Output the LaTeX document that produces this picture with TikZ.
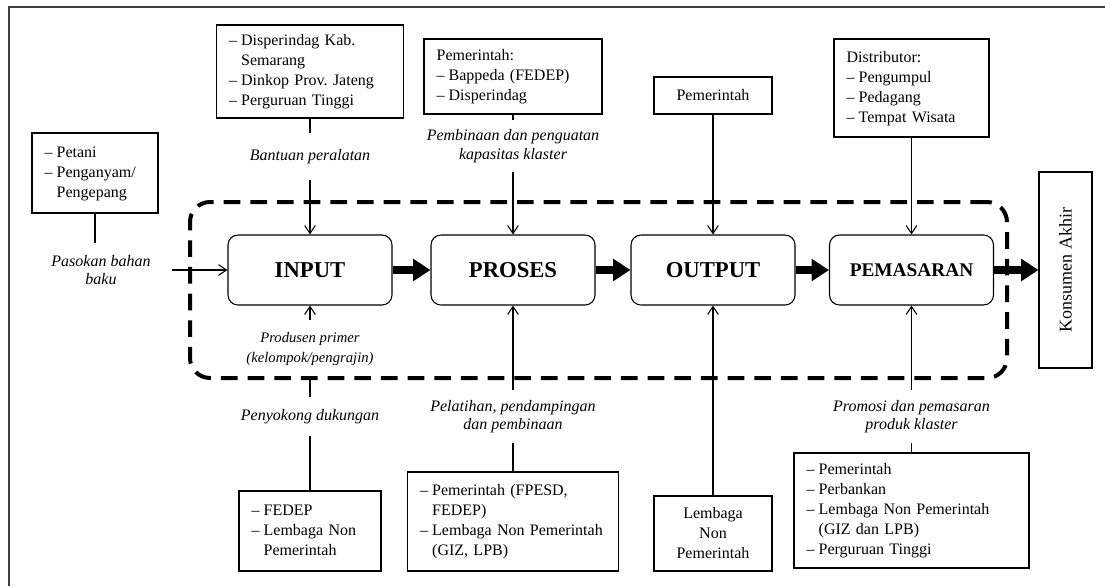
\documentclass[tikz,border=0pt]{standalone}
\usepackage{fontspec}
\setmainfont{Liberation Serif}
\usetikzlibrary{arrows.meta}

\newcommand{\fs}[2]{\fontsize{#1}{#2}\selectfont}

\begin{document}
\begin{tikzpicture}[x=0.75pt, y=-0.75pt,
  stage/.style={draw, line width=0.8pt, rounded corners=7.5pt, minimum width=123pt, minimum height=52.5pt, font=\bfseries\fs{17}{20}},
  actor/.style={draw, line width=0.8pt, align=left, inner xsep=9.5pt, inner ysep=0pt, font=\fs{12}{15}},
  note/.style={inner sep=0pt, align=center, font=\itshape\fs{12}{14}},
  link/.style={line width=0.8pt},
  feed/.style={line width=0.8pt, -{Straight Barb[length=6pt,width=8pt]}},
  flow/.style={line width=6.5pt, -{Triangle[length=13pt,width=16pt]}},
  klasterbox/.style={draw, dashed, line width=3pt, dash pattern=on 12.5pt off 7.5pt, rounded corners=15pt, minimum width=612.75pt, minimum height=132pt}]
\useasboundingbox (0,0) rectangle (1105,586);
\draw[line width=1.3pt, black!75] (1105,7) -- (9,7) -- (9,586);

\draw (598.5,290) node[klasterbox] (klaster) {};

% rantai utama
\draw (310,270) node[stage] (input) {INPUT};
\draw (513,270) node[stage] (proses) {PROSES};
\draw (713,270) node[stage] (output) {OUTPUT};
\draw (911.5,270) node[stage, font=\bfseries\fs{14.5}{17}] (pemasaran) {PEMASARAN};
\draw (1065.5,270) node[draw, line width=0.8pt, rotate=90, minimum width=147pt, minimum height=39.75pt, font=\fs{13.5}{16}] (konsumen) {Konsumen Akhir};

% pihak di atas
\draw (95,173) node[actor, text width=75.5pt, minimum height=60pt] (petani) {\begin{tabular}{@{}l@{\hspace{3pt}}l@{}}
–&Petani\\ –&Penganyam/\\ &Pengepang\end{tabular}};
\draw (310,71.5) node[actor, text width=121.25pt, minimum height=69.75pt] (dkab) {\begin{tabular}{@{}l@{\hspace{3pt}}l@{}}
–&Disperindag Kab.\\ &Semarang\\ –&Dinkop Prov.\ Jateng\\ –&Perguruan Tinggi\end{tabular}};
\draw (513,76.5) node[actor, text width=114.5pt, minimum height=56.25pt] (bappeda) {\begin{tabular}{@{}l@{\hspace{3pt}}l@{}}
\multicolumn{2}{@{}l@{}}{Pemerintah:}\\ –&Bappeda (FEDEP)\\ –&Disperindag\end{tabular}};
\draw (713,95.5) node[draw, line width=0.8pt, inner sep=0pt, minimum width=88.5pt, minimum height=27.75pt, font=\fs{12}{15}] (pemtop) {Pemerintah};
\draw (911.5,88) node[actor, text width=97.25pt, minimum height=73.5pt] (distrib) {\begin{tabular}{@{}l@{\hspace{3pt}}l@{}}
\multicolumn{2}{@{}l@{}}{Distributor:}\\ –&Pengumpul\\ –&Pedagang\\ –&Tempat Wisata\end{tabular}};

% pihak di bawah
\draw (310,531) node[actor, text width=87.5pt, minimum height=60pt] (fedep) {\begin{tabular}{@{}l@{\hspace{3pt}}l@{}}
–&FEDEP\\ –&Lembaga Non\\ &Pemerintah\end{tabular}};
\draw (513,521.5) node[actor, text width=139.25pt, minimum height=74.25pt] (latih) {\begin{tabular}{@{}l@{\hspace{3pt}}l@{}}
–&Pemerintah (FPESD,\\ &FEDEP)\\ –&Lembaga Non Pemerintah\\ &(GIZ, LPB)\end{tabular}};
\draw (713,533.5) node[draw, line width=0.8pt, align=center, inner sep=0pt, minimum width=88.5pt, minimum height=56.25pt, font=\fs{12}{15}] (lembaga) {Lembaga\\Non\\Pemerintah};
\draw (911.5,510.5) node[actor, text width=157.25pt, minimum height=86.25pt] (promo) {\begin{tabular}{@{}l@{\hspace{3pt}}l@{}}
–&Pemerintah\\ –&Perbankan\\ –&Lembaga Non Pemerintah\\ &(GIZ dan LPB)\\ –&Perguruan Tinggi\end{tabular}};

% keterangan
\draw (101,270) node[note, minimum width=106.5pt, minimum height=40.5pt] (pasokan) {Pasokan bahan\\baku};
\draw (310,156.5) node[note, minimum height=35.25pt] (bantuan) {Bantuan peralatan};
\draw (513,146) node[note, minimum height=39pt] (pembinaan) {Pembinaan dan penguatan\\kapasitas klaster};
\draw (310,349) node[note, minimum height=43.5pt, font=\itshape\fs{11}{15}] (produsen) {Produsen primer\\(kelompok/pengrajin)};
\draw (310,416.5) node[note, minimum height=29.25pt] (penyokong) {Penyokong dukungan};
\draw (513,416.5) node[note, minimum height=39.75pt] (pelatihan) {Pelatihan, pendampingan\\dan pembinaan};
\draw (911.5,416.5) node[note, minimum height=39.75pt] (promosi) {Promosi dan pemasaran\\produk klaster};

\draw[link] (petani.south) -- (petani.south |- pasokan.north);
\draw[feed] (pasokan.east) -- (input.west);
\draw[link] (dkab.south) -- (bantuan.north);
\draw[feed] (bantuan.south) -- (input.north);
\draw[link] (bappeda.south) -- (pembinaan.north);
\draw[feed] (pembinaan.south) -- (proses.north);
\draw[feed] (pemtop.south) -- (output.north);
\draw[feed] (distrib.south) -- (pemasaran.north);

\draw[feed] (produsen.north) -- (input.south);
\draw[link] (input |- klaster.south) -- (penyokong.north);
\draw[link] (penyokong.south) -- (fedep.north);
\draw[feed] (pelatihan.north) -- (proses.south);
\draw[link] (pelatihan.south) -- (latih.north);
\draw[feed] (lembaga.north) -- (output.south);
\draw[feed] (promosi.north) -- (pemasaran.south);
\draw[link] (promosi.south) -- (promo.north);

\draw[flow] (input.east) -- (proses.west);
\draw[flow] (proses.east) -- (output.west);
\draw[flow] (output.east) -- (pemasaran.west);
\draw[flow] (pemasaran.east) -- (konsumen);
\end{tikzpicture}
\end{document}
